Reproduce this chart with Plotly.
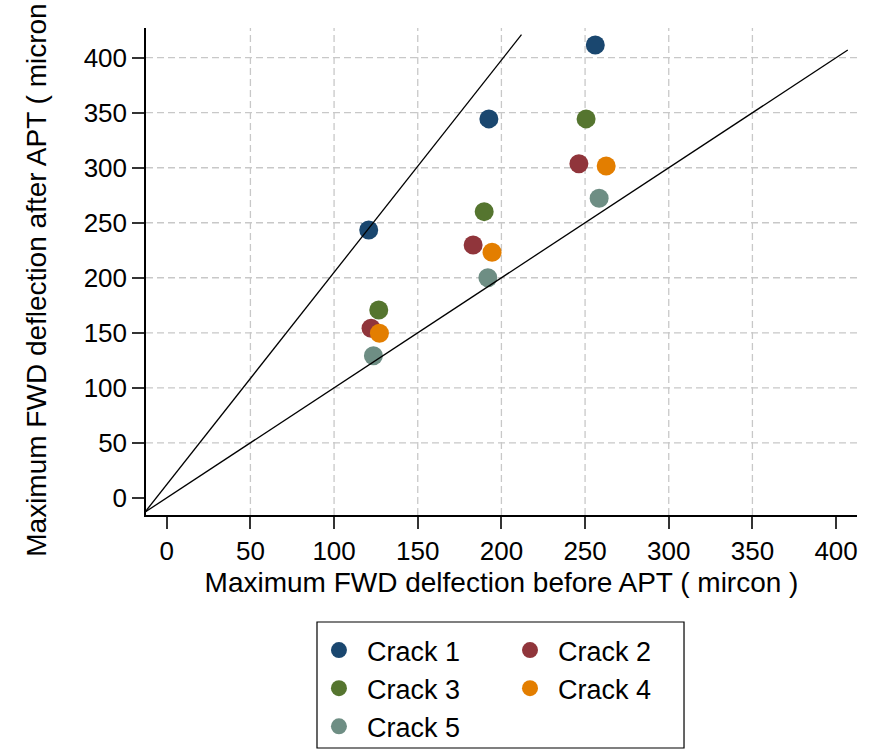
import plotly.graph_objects as go

# ---- data ----
series_names = ["Crack 1", "Crack 2", "Crack 3", "Crack 4", "Crack 5"]
series_colors = ["#1a476f", "#90353b", "#55752f", "#e37e00", "#6e8e84"]
crack1_x = [120.7, 192.5, 256.1]
crack1_y = [243.5, 344.4, 411.6]
crack2_x = [122.1, 183.1, 246.3]
crack2_y = [154.1, 229.8, 303.7]
crack3_x = [126.7, 189.7, 250.6]
crack3_y = [170.7, 260.1, 344.4]
crack4_x = [127.1, 194.4, 262.6]
crack4_y = [149.5, 223.2, 301.6]
crack5_x = [123.5, 191.9, 258.4]
crack5_y = [129.2, 200.1, 272.3]

# reference lines (end points)
line_steep_x = [-13, 212]
line_steep_y = [-13, 421]
line_equal_x = [-13, 407]
line_equal_y = [-13, 407]

tick_vals = [0, 50, 100, 150, 200, 250, 300, 350, 400]
xgrid_vals = [50, 100, 150, 200, 250, 300, 350]
ygrid_vals = [50, 100, 150, 200, 250, 300, 350, 400]

x_title = "Maximum FWD delfection before APT ( mircon )"
y_title = "Maximum FWD deflection after APT ( micron )"

FONT = "Arial, Liberation Sans, Helvetica, sans-serif"

xs = [crack1_x, crack2_x, crack3_x, crack4_x, crack5_x]
ys = [crack1_y, crack2_y, crack3_y, crack4_y, crack5_y]
legend_of = ["legend", "legend2", "legend", "legend2", "legend"]

fig = go.Figure()
for name, col, x, y, lg in zip(series_names, series_colors, xs, ys, legend_of):
    fig.add_trace(go.Scatter(
        x=x, y=y, mode="markers", name=name,
        marker=dict(color=col, size=19, line=dict(width=0)),
        legend=lg,
    ))

for lx, ly in [(line_steep_x, line_steep_y), (line_equal_x, line_equal_y)]:
    fig.add_trace(go.Scatter(
        x=lx, y=ly, mode="lines", line=dict(color="black", width=1.3),
        showlegend=False, hoverinfo="skip",
    ))

shapes = []
grid_style = dict(color="#c8c8c8", width=1.3, dash="7px,4px")
for gx in xgrid_vals:
    shapes.append(dict(type="line", xref="x", yref="paper", x0=gx, x1=gx,
                       y0=0, y1=1, line=grid_style, layer="below"))
for gy in ygrid_vals:
    shapes.append(dict(type="line", xref="paper", yref="y", x0=0, x1=1,
                       y0=gy, y1=gy, line=grid_style, layer="below"))
# legend frame
shapes.append(dict(type="rect", xref="paper", yref="paper",
                   x0=0.2405, x1=0.7567, y0=-0.4784, y1=-0.2197,
                   line=dict(color="black", width=1.2), fillcolor="white",
                   layer="below"))

axis_common = dict(
    showline=True, linecolor="black", linewidth=1.5,
    ticks="outside", ticklen=12, tickwidth=1.5, tickcolor="#333333",
    tickvals=tick_vals, showgrid=False, zeroline=False,
    tickfont=dict(family=FONT, size=26, color="black"),
)

legend_common = dict(
    orientation="v", yanchor="top", xanchor="left",
    font=dict(family=FONT, size=27, color="black"),
    bgcolor="rgba(0,0,0,0)", borderwidth=0, itemwidth=46,
)

fig.update_layout(
    width=877, height=750,
    margin=dict(l=146, r=20, t=28, b=235, autoexpand=False),
    paper_bgcolor="white", plot_bgcolor="white",
    xaxis=dict(range=[-12.4, 412.5],
               title=dict(text=x_title, font=dict(family=FONT, size=28, color="black"), standoff=7),
               **axis_common),
    yaxis=dict(range=[-15.6, 427],
               title=dict(text=y_title, font=dict(family=FONT, size=28, color="black"), standoff=29),
               **axis_common),
    shapes=shapes,
    legend=dict(x=0.232, y=-0.228, **legend_common),
    legend2=dict(x=0.5007, y=-0.228, **legend_common),
)

fig.write_html("out.html")
